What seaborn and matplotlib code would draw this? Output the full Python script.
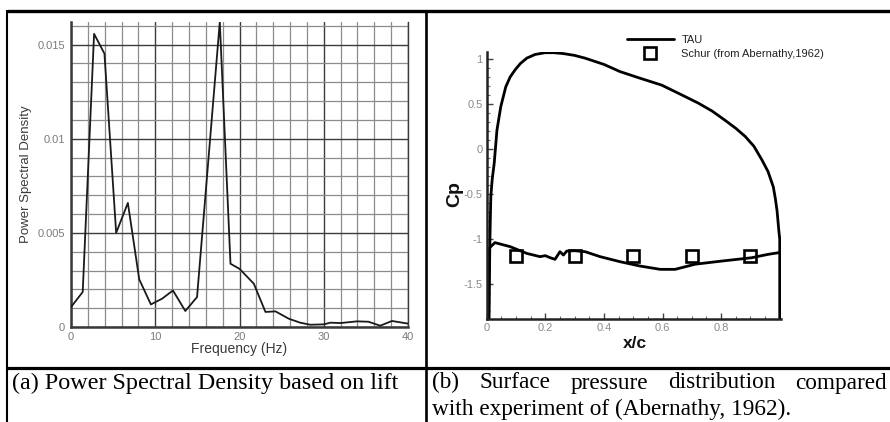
import numpy as np
import pandas as pd
import matplotlib
matplotlib.use("Agg")
import matplotlib.pyplot as plt
import seaborn as sns
from matplotlib.ticker import MultipleLocator, FixedLocator, FuncFormatter

# ---------------- data ----------------
# (a) power spectral density of lift
freq_hz = [0.0, 1.39, 2.74, 3.97, 5.36, 6.75, 8.1, 9.48, 10.8, 12.1, 13.57, 14.96,
           17.66, 18.93, 20.0, 21.7, 23.08, 24.27, 25.85, 27.2, 28.4, 30.0, 30.8,
           32.0, 33.95, 35.3, 36.7, 38.1, 40.0]
psd = [0.00106, 0.00186, 0.01557, 0.01452, 0.00500, 0.00659, 0.00253, 0.00120,
       0.00150, 0.00194, 0.00085, 0.00159, 0.01620, 0.00336, 0.00309, 0.00230,
       0.00080, 0.00083, 0.00044, 0.00023, 0.00012, 0.00014, 0.00023, 0.00021,
       0.00030, 0.00028, 0.00007, 0.00032, 0.00018]
psd_xticks = [0, 10, 20, 30, 40]
psd_yticks = [0, 0.005, 0.01, 0.015]
psd_yticklabels = ["0", "0.005", "0.01", "0.015"]

# (b) surface pressure distribution
upper_xc = [0.007, 0.009, 0.011, 0.014, 0.019, 0.0256, 0.035, 0.048, 0.065, 0.08,
            0.097, 0.115, 0.137, 0.165, 0.199, 0.23, 0.262, 0.30, 0.335, 0.40,
            0.455, 0.52, 0.597, 0.66, 0.722, 0.77, 0.813, 0.85, 0.882, 0.912,
            0.939, 0.96, 0.978, 0.985, 0.991, 0.997, 1.0, 1.0]
upper_cp = [-2.2, -1.5, -1.0, -0.53, -0.33, -0.16, 0.21, 0.47, 0.69, 0.80,
            0.88, 0.95, 1.01, 1.05, 1.07, 1.07, 1.06, 1.04, 1.01, 0.94,
            0.86, 0.79, 0.71, 0.61, 0.51, 0.42, 0.32, 0.23, 0.14, 0.03,
            -0.12, -0.25, -0.42, -0.55, -0.69, -0.91, -1.0, -2.2]
lower_xc = [0.006, 0.009, 0.028, 0.08, 0.137, 0.182, 0.2, 0.216, 0.233, 0.25,
            0.262, 0.273, 0.3, 0.336, 0.387, 0.455, 0.523, 0.592, 0.643, 0.711,
            0.802, 0.904, 0.961, 1.0]
lower_cp = [-2.2, -1.10, -1.04, -1.085, -1.16, -1.196, -1.185, -1.207, -1.226,
            -1.141, -1.178, -1.134, -1.13, -1.141, -1.196, -1.252, -1.30, -1.337,
            -1.337, -1.28, -1.245, -1.208, -1.17, -1.15]
exp_xc = [0.1, 0.3, 0.5, 0.7, 0.9]
exp_cp = [-1.185, -1.185, -1.185, -1.185, -1.185]
cp_xticks = [0, 0.2, 0.4, 0.6, 0.8]
cp_yticks = [-1.5, -1, -0.5, 0, 0.5, 1]
legend_labels = ["TAU", "Schur (from Abernathy,1962)"]

caption_a = "(a) Power Spectral Density based on lift"
caption_b1 = ["(b)", "Surface", "pressure", "distribution", "compared"]
caption_b2 = "with experiment of (Abernathy, 1962)."

# ---------------- style ----------------
sns.set_theme(style="white")
plt.rcParams["font.family"] = ["Liberation Sans", "DejaVu Sans"]
plt.rcParams["axes.unicode_minus"] = False

W, H = 890, 422
fig = plt.figure(figsize=(W / 100, H / 100), dpi=100)
fig.patch.set_facecolor("white")


def px_rect(l, t, r, b):
    return [l / W, 1 - b / H, (r - l) / W, (b - t) / H]


# ---------------- table frame / captions ----------------
axbg = fig.add_axes([0, 0, 1, 1])
axbg.set_xlim(0, W)
axbg.set_ylim(H, 0)
axbg.axis("off")
axbg.plot([7, W], [11, 11], color="black", lw=2.4, solid_capstyle="butt")
axbg.plot([7, W], [368, 368], color="black", lw=2.3, solid_capstyle="butt")
axbg.plot([7.3, 7.3], [10, H], color="black", lw=1.5, solid_capstyle="butt")
axbg.plot([426, 426], [10, H], color="black", lw=1.9, solid_capstyle="butt")

renderer = fig.canvas.get_renderer()
serif = ["Liberation Serif", "DejaVu Serif"]


def fitted_text(x, y, s, target_w, **kw):
    t = axbg.text(x, y, s, family=serif, fontsize=16, ha="left", va="baseline",
                  color="black", **kw)
    w = t.get_window_extent(renderer).width
    fs = 16 * target_w / w
    t.set_fontsize(fs)
    return t, fs


fitted_text(12, 388.5, caption_a, 387)
_, fs_b = fitted_text(432, 415.5, caption_b2, 360)

# justified first line of caption (b)
word_texts = [axbg.text(0, 388.5, w, family=serif, fontsize=fs_b, ha="left",
                        va="baseline", color="black") for w in caption_b1]
widths = [t.get_window_extent(renderer).width for t in word_texts]
left, right = 432, 887
gap = (right - left - sum(widths)) / (len(widths) - 1)
xpos = left
for t, w in zip(word_texts, widths):
    t.set_x(xpos)
    xpos += w + gap

# ---------------- (a) PSD ----------------
ax1 = fig.add_axes(px_rect(71, 22, 408, 327))
df1 = pd.DataFrame({"freq": freq_hz, "psd": psd})
sns.lineplot(data=df1, x="freq", y="psd", ax=ax1, color="#1a1a1a", lw=1.3,
             sort=False, estimator=None, zorder=3)
ax1.set_xlim(0, 40)
ax1.set_ylim(0, 0.0162)
ax1.xaxis.set_major_locator(FixedLocator(psd_xticks))
ax1.xaxis.set_minor_locator(MultipleLocator(2))
ax1.yaxis.set_major_locator(FixedLocator(psd_yticks))
ax1.yaxis.set_major_formatter(FuncFormatter(
    lambda v, p: psd_yticklabels[p] if p is not None and p < len(psd_yticklabels) else f"{v:g}"))
ax1.yaxis.set_minor_locator(MultipleLocator(0.001))
ax1.grid(which="minor", color="#8c8c8c", lw=0.9)
ax1.grid(which="major", color="#3c3c3c", lw=1.0)
ax1.set_axisbelow(True)
for side in ["left", "bottom"]:
    ax1.spines[side].set_color("#3a3a3a")
    ax1.spines[side].set_linewidth(1.8)
ax1.spines["right"].set_color("#3c3c3c")
ax1.spines["right"].set_linewidth(1.0)
ax1.spines["top"].set_visible(False)
ax1.tick_params(which="major", direction="out", length=3, width=1, color="#3a3a3a",
                labelsize=8, labelcolor="#7a7a7a", pad=1.5)
ax1.tick_params(axis="x", which="major", pad=0.5)
ax1.tick_params(which="minor", length=0)
ax1.set_xlabel("Frequency (Hz)", fontsize=10, color="#3a3a3a")
ax1.xaxis.set_label_coords(0.5, -0.05)
ax1.set_ylabel("Power Spectral Density", fontsize=9.5, color="#3a3a3a")
ax1.yaxis.set_label_coords(-0.116, 0.5)

# ---------------- (b) Cp ----------------
ax2 = fig.add_axes(px_rect(486.7, 51.8, 781.2, 319.3))
ax2.patch.set_alpha(0)
sns.lineplot(x=upper_xc, y=upper_cp, ax=ax2, color="black", lw=2.0,
             sort=False, estimator=None)
sns.lineplot(x=lower_xc, y=lower_cp, ax=ax2, color="black", lw=2.0,
             sort=False, estimator=None)
sns.lineplot(x=exp_xc, y=exp_cp, ax=ax2, color="black", linestyle="", marker="s",
             markersize=8, markerfacecolor="none", markeredgecolor="black",
             markeredgewidth=1.9, sort=False, estimator=None)
ax2.set_xlim(0, 1.005)
ax2.set_ylim(-1.892, 1.08)
ax2.xaxis.set_major_locator(FixedLocator(cp_xticks))
ax2.xaxis.set_minor_locator(MultipleLocator(0.05))
ax2.yaxis.set_major_locator(FixedLocator(cp_yticks))
ax2.yaxis.set_minor_locator(MultipleLocator(0.1))
fmt = FuncFormatter(lambda v, p: f"{v:g}")
ax2.xaxis.set_major_formatter(fmt)
ax2.yaxis.set_major_formatter(fmt)
for side in ["left", "bottom"]:
    ax2.spines[side].set_color("#222222")
    ax2.spines[side].set_linewidth(1.8)
for side in ["top", "right"]:
    ax2.spines[side].set_visible(False)
ax2.tick_params(which="major", direction="in", length=4, width=1, color="#444444",
                labelsize=8, labelcolor="#8a8a8a", pad=3)
ax2.tick_params(which="minor", direction="in", length=2, width=0.8, color="#666666")
ax2.tick_params(axis="x", which="both", bottom=True)
ax2.tick_params(axis="y", which="both", left=True)
ax2.set_xlabel("x/c", fontsize=12.5, fontweight="bold", color="#111111")
ax2.xaxis.set_label_coords(0.504, -0.062)
ax2.set_ylabel("Cp", fontsize=14, fontweight="bold", color="#111111")
ax2.yaxis.set_label_coords(-0.08, 0.47)

lines = ax2.get_lines()
ax2.legend(handles=[lines[0], lines[2]], labels=legend_labels, loc="upper left",
           bbox_to_anchor=(627 / W, 1 - 35 / H), bbox_transform=fig.transFigure,
           frameon=False, fontsize=8, handlelength=4.2, handletextpad=0.7,
           borderpad=0, borderaxespad=0, labelspacing=0.35, labelcolor="#222222")

fig.savefig("out.png", dpi=100)
